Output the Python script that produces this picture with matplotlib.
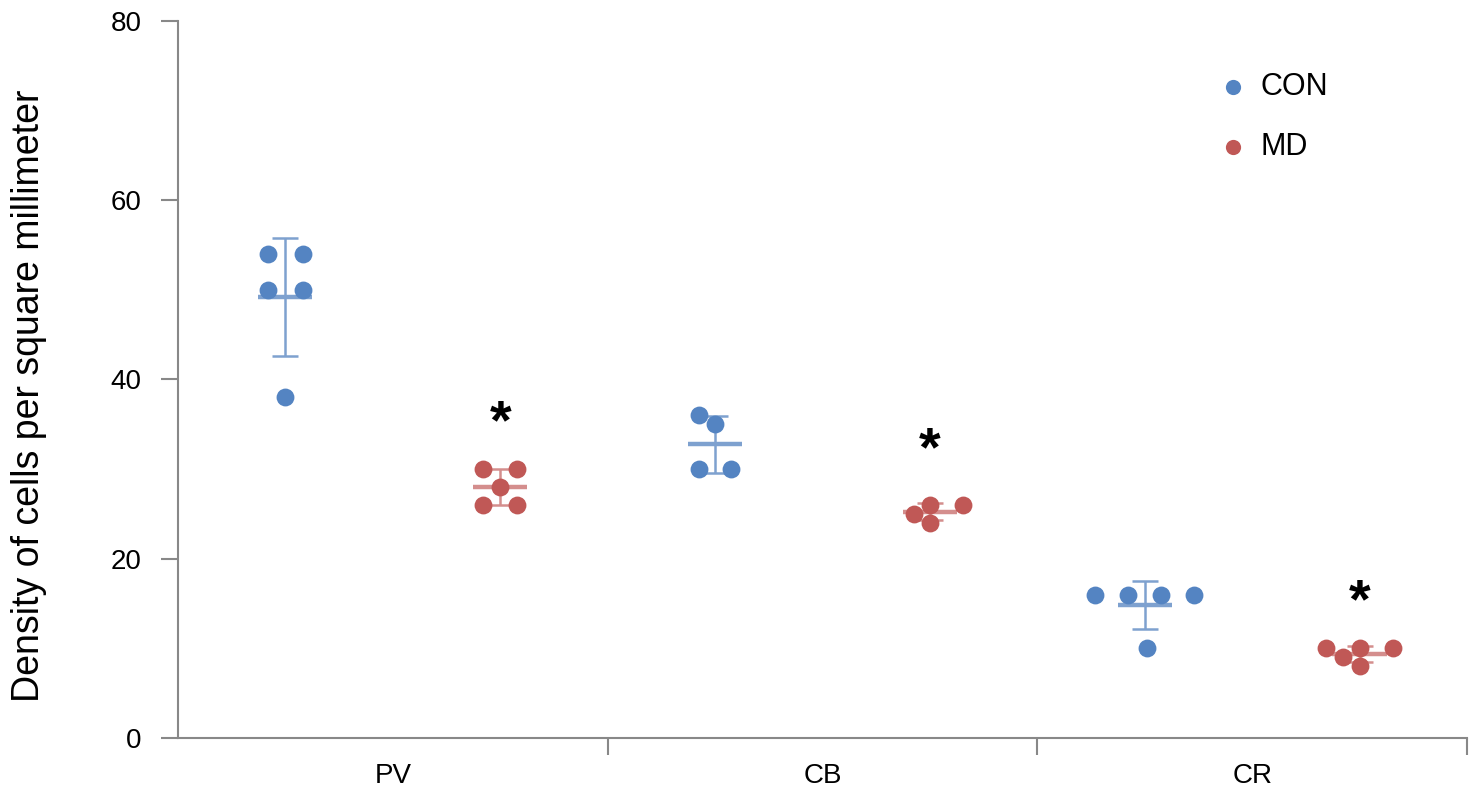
import numpy as np
from matplotlib import pyplot as plt

plt.rcParams['font.family'] = ['Liberation Sans', 'DejaVu Sans']

categories = ['PV', 'CB', 'CR']

# individual animals
con_vals = [[54, 54, 50, 50, 38],
            [36, 35, 30, 30],
            [16, 16, 16, 16, 10]]
md_vals = [[30, 30, 28, 26, 26],
           [25, 26, 24, 26],
           [10, 9, 10, 8, 10]]

# horizontal jitter of the dots inside each group (beeswarm look)
con_jit = [[-0.04, 0.04, -0.04, 0.04, 0.0],
           [-0.038, 0.0, -0.038, 0.038],
           [-0.115, -0.038, 0.038, 0.115, 0.005]]
md_jit = [[-0.04, 0.04, 0.0, -0.04, 0.04],
          [-0.038, 0.0, 0.0, 0.077],
          [-0.077, -0.038, 0.0, 0.0, 0.077]]

# asterisk heights (glyph sits high in its box, so given a bit lower)
star_y = [35.0, 32.0, 15.0]

blue = '#5484c2'
red = '#c05856'
blue_l = '#7ea1cf'
red_l = '#d48e8d'

fig = plt.figure(figsize=(14.77, 7.93), dpi=100)
ax = fig.add_axes([0.1205, 0.0694, 0.8727, 0.9041])

off = 0.25
for i in range(len(categories)):
    for vals, jit, sgn, c, cl in [(con_vals[i], con_jit[i], -1, blue, blue_l),
                                  (md_vals[i], md_jit[i], 1, red, red_l)]:
        xc = i + sgn*off
        v = np.array(vals, dtype=float)
        m = v.mean()
        sd = v.std(ddof=1)
        ax.errorbar([xc], [m], yerr=[sd], fmt='none', ecolor=cl, elinewidth=1.8,
                    capsize=9.5, capthick=1.8, zorder=2)
        ax.plot([xc-0.063, xc+0.063], [m, m], color=cl, lw=3.2, zorder=2,
                solid_capstyle='butt')
        ax.scatter(xc + np.array(jit), v, s=165, color=c, zorder=3, linewidths=0)
    ax.text(i + off, star_y[i], '*', fontsize=40, fontweight='bold', ha='center',
            va='center', color='black')

ax.scatter([], [], s=120, color=blue, linewidths=0, label='CON')
ax.scatter([], [], s=120, color=red, linewidths=0, label='MD')
ax.legend(loc='upper left', bbox_to_anchor=(0.807, 0.929), frameon=False,
          fontsize=22, handlelength=1.0, handletextpad=0.4, labelspacing=1.0,
          borderpad=0, borderaxespad=0, scatterpoints=1)

ax.set_xlim(-0.5, 2.5)
ax.set_ylim(0, 80)
ax.set_yticks([0, 20, 40, 60, 80])
ax.set_xticks([0.5, 1.5, 2.5])
ax.set_xticklabels([])
ax.set_xticks([0, 1, 2], minor=True)
ax.set_xticklabels(categories, minor=True)
ax.tick_params(axis='x', which='minor', length=0, pad=18, labelsize=20)
ax.tick_params(axis='x', which='major', length=12, width=1.5, color='#888888')
ax.tick_params(axis='y', length=12, width=1.5, color='#888888', labelsize=20, pad=14)

for s in ['top', 'right']:
    ax.spines[s].set_visible(False)
for s in ['left', 'bottom']:
    ax.spines[s].set_color('#888888')
    ax.spines[s].set_linewidth(1.5)

ax.set_ylabel('Density of cells per square millimeter', fontsize=27)
ax.yaxis.set_label_coords(-0.102, 0.477)

plt.savefig('out.png', dpi=100)
